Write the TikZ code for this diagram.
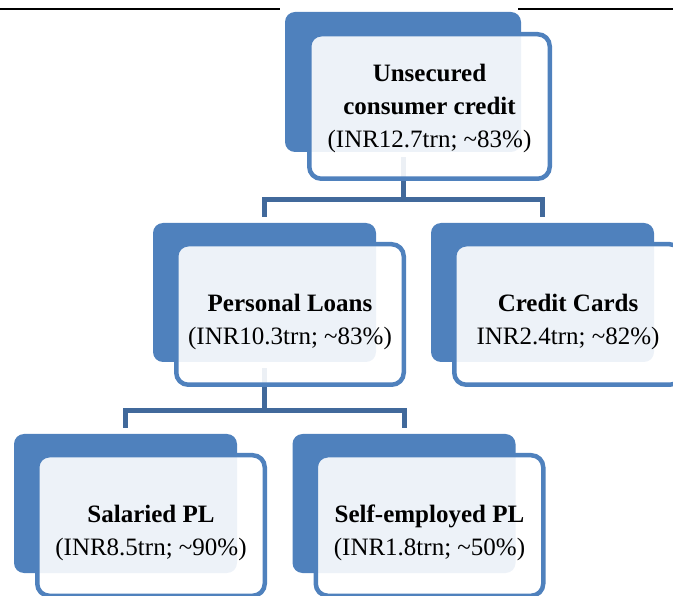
\documentclass[tikz,border=0pt]{standalone}
\usepackage{fontspec}
\setmainfont{Liberation Serif}
\usetikzlibrary{positioning}

\definecolor{boxblue}{HTML}{4F81BD}
\definecolor{linkblue}{HTML}{41699B}

\newcommand{\boxlift}{\rule{0pt}{33pt}}
\newcommand{\toplift}{\rule{0pt}{22pt}}

\tikzset{
  back box/.style={fill=boxblue, rounded corners=10pt, inner sep=0pt,
    minimum width=223pt, minimum height=139pt},
  back unsec/.style={minimum width=236pt, minimum height=140pt},
  front box/.style={draw=boxblue, line width=4.5pt, fill=white, fill opacity=0.9,
    text opacity=1, rounded corners=12pt, inner sep=0pt, align=center,
    minimum width=227.5pt, minimum height=140.5pt,
    font=\fontsize{25}{33}\selectfont},
  front unsec/.style={minimum width=240.5pt, minimum height=144.5pt},
  link/.style={draw=linkblue, line width=5pt},
}

\begin{document}
\begin{tikzpicture}[x=1pt, y=-1pt]
\useasboundingbox (0,0) rectangle (673,596);

% rule at the top of the page
\draw [line width=2pt] (0,9) -- (280,9);
\draw [line width=2pt] (518,9) -- (673,9);

\foreach \n/\x/\y in {unsec/403/82, pl/264.5/292.5, cc/542.5/292.5, sal/125.5/503.5, self/404/503.5}
  \node [back box, back \n/.try] (\n-back) at (\x,\y) {};

\coordinate (fork-top) at (403,199.5);
\coordinate (fork-pl) at (264.5,411);

\draw [link, shorten <=5pt] (unsec-back.south) -- (fork-top);
\foreach \c in {pl,cc}
  \draw [link, shorten <=6pt] (\c-back.north) |- (fork-top);

\draw [link, shorten <=6pt] (pl-back.south) -- (fork-pl);
\foreach \c in {sal,self}
  \draw [link, shorten <=6pt] (\c-back.north) |- (fork-pl);

\node [front box, front unsec/.try] (unsec) at (429.5,106.5)
  {\toplift\textbf{Unsecured}\\\textbf{consumer credit}\\(INR12.7trn; \textasciitilde83\%)};
\node [front box] (pl) at (290,314.5)
  {\boxlift\textbf{Personal Loans}\\(INR10.3trn; \textasciitilde83\%)};
\node [front box] (cc) at (568,314.5)
  {\boxlift\textbf{Credit Cards}\\INR2.4trn; \textasciitilde82\%)};
\node [front box] (sal) at (151,525.5)
  {\boxlift\textbf{Salaried PL}\\(INR8.5trn; \textasciitilde90\%)};
\node [front box] (self) at (429.5,525.5)
  {\boxlift\textbf{Self-employed PL}\\(INR1.8trn; \textasciitilde50\%)};

\end{tikzpicture}
\end{document}
